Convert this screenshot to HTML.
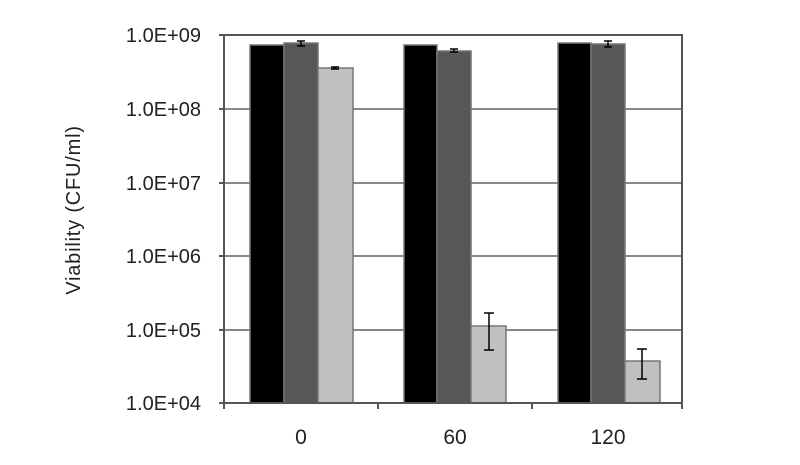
<!DOCTYPE html>
<html><head><meta charset="utf-8"><style>body{margin:0;background:#fff}</style></head><body>
<svg width="800" height="460" xmlns="http://www.w3.org/2000/svg" font-family="Liberation Sans, sans-serif">
<rect width="800" height="460" fill="#fff"/>
<g stroke="#888" stroke-width="2">
<line x1="224" y1="109" x2="682" y2="109"/>
<line x1="224" y1="183" x2="682" y2="183"/>
<line x1="224" y1="256" x2="682" y2="256"/>
<line x1="224" y1="330" x2="682" y2="330"/>
</g>
<g stroke="#777" stroke-width="1.5">
<rect x="250" y="45" width="34" height="358" fill="#000"/>
<rect x="284" y="43" width="34" height="360" fill="#575757"/>
<rect x="318" y="68" width="35" height="335" fill="#c0c0c0"/>
<rect x="404" y="45" width="33" height="358" fill="#000"/>
<rect x="437" y="51" width="34" height="352" fill="#575757"/>
<rect x="471" y="326" width="35" height="77" fill="#c0c0c0"/>
<rect x="558" y="43" width="33" height="360" fill="#000"/>
<rect x="591" y="44" width="34" height="359" fill="#575757"/>
<rect x="625" y="361" width="35" height="42" fill="#c0c0c0"/>
</g>
<g stroke="#000" stroke-width="1.5">
<path d="M301 41V46M297 41H305M297 46H305"/>
<path d="M335 67V69M331 67H339M331 69H339"/>
<path d="M454 49V52M450 49H458M450 52H458"/>
<path d="M608 41V47M604 41H612M604 47H612"/>
<path d="M489 313V350M484 313H494M484 350H494"/>
<path d="M642 349V379M637 349H647M637 379H647"/>
</g>
<g stroke="#555" stroke-width="2" fill="none">
<rect x="224" y="35" width="458" height="368"/>
<path d="M219 35H224M219 109H224M219 183H224M219 256H224M219 330H224M219 403H224"/>
<path d="M224 403V409M378 403V409M532 403V409M682 403V409"/>
</g>
<g font-size="20" fill="#222" text-anchor="end">
<text x="201" y="42">1.0E+09</text>
<text x="201" y="116">1.0E+08</text>
<text x="201" y="190">1.0E+07</text>
<text x="201" y="263">1.0E+06</text>
<text x="201" y="337">1.0E+05</text>
<text x="201" y="410">1.0E+04</text>
</g>
<g font-size="21" fill="#222" text-anchor="middle">
<text x="301" y="444">0</text>
<text x="455" y="444">60</text>
<text x="608" y="444">120</text>
<text transform="translate(80,210) rotate(-90)" font-size="20" letter-spacing="0.8">Viability (CFU/ml)</text>
</g>
</svg>
</body></html>
